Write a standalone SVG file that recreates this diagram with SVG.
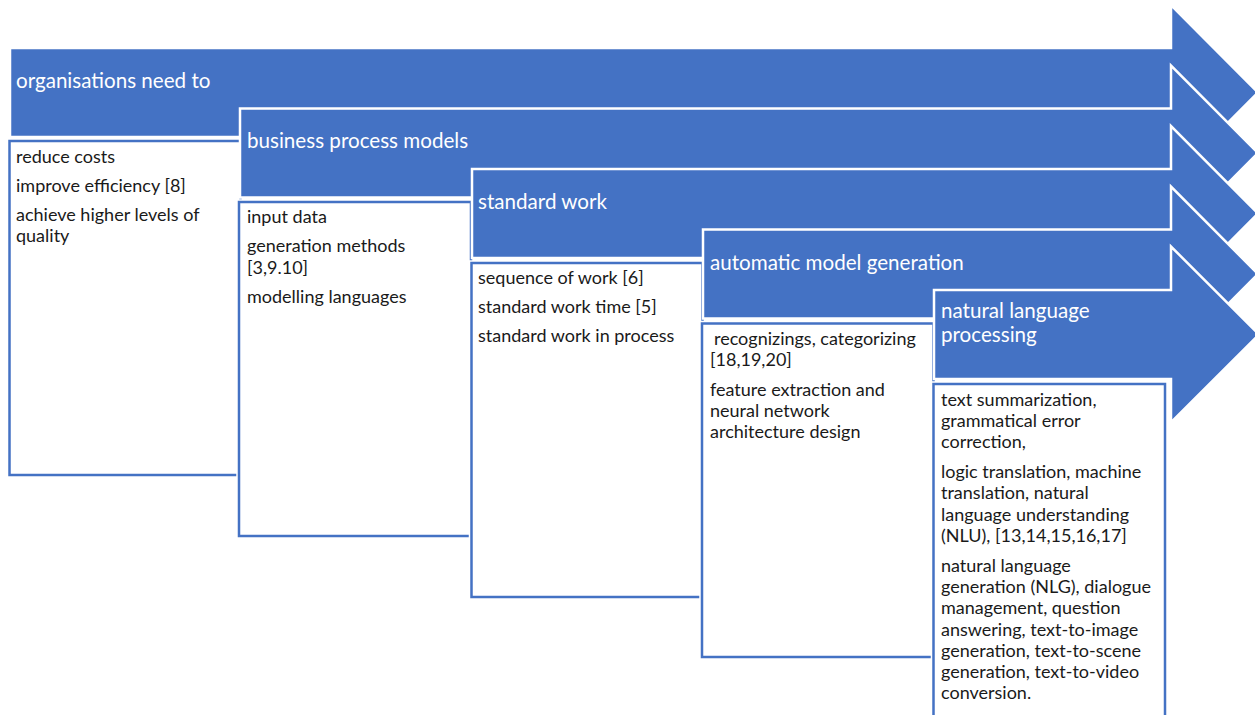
<svg xmlns="http://www.w3.org/2000/svg" width="1255" height="715" viewBox="0 0 1255 715">
<style>
.arrow{fill:#4472C4;stroke:#ffffff;stroke-width:2.5;stroke-linejoin:miter}
.box{fill:#ffffff;stroke:#4472C4;stroke-width:2.5}
.halo{fill:none;stroke:#ffffff;stroke-width:5.5}
.hd{font-family:Lato,"Open Sans",sans-serif;font-size:20.6px;fill:#ffffff}
.bd{font-family:Lato,"Open Sans",sans-serif;font-size:18px;fill:#1a1a1a}
</style>
<rect width="1255" height="715" fill="#ffffff"/>
<g id="node1">
<path class="arrow" d="M10,48 H1171 V5 L1258,92.5 L1171,180 V137 H10 Z"/>
<text class="hd" x="16" y="88">organisations need to</text>
<rect class="halo" x="9.5" y="141" width="231" height="334"/>
<rect class="box" x="9.5" y="141" width="231" height="334"/>
<text class="bd" x="16" y="162.5">reduce costs</text>
<text class="bd" x="16" y="191.5">improve efficiency [8]</text>
<text class="bd" x="16" y="220.5">achieve higher levels of</text>
<text class="bd" x="16" y="242">quality</text>
</g>
<g id="node2">
<path class="arrow" d="M240,108.5 H1171 V65.5 L1258,153 L1171,240.5 V197.5 H240 Z"/>
<text class="hd" x="247" y="148">business process models</text>
<rect class="halo" x="239" y="202" width="232" height="334"/>
<rect class="box" x="239" y="202" width="232" height="334"/>
<text class="bd" x="247" y="223">input data</text>
<text class="bd" x="247" y="252">generation methods</text>
<text class="bd" x="247" y="273.5">[3,9.10]</text>
<text class="bd" x="247" y="303">modelling languages</text>
</g>
<g id="node3">
<path class="arrow" d="M472,169 H1171 V126 L1258,213.5 L1171,301 V258 H472 Z"/>
<text class="hd" x="478" y="209">standard work</text>
<rect class="halo" x="471.5" y="263" width="231" height="334"/>
<rect class="box" x="471.5" y="263" width="231" height="334"/>
<text class="bd" x="478" y="284">sequence of work [6]</text>
<text class="bd" x="478" y="313">standard work time [5]</text>
<text class="bd" x="478" y="342">standard work in process</text>
</g>
<g id="node4">
<path class="arrow" d="M703,229.5 H1171 V186.5 L1258,274 L1171,361.5 V318.5 H703 Z"/>
<text class="hd" x="710" y="270">automatic model generation</text>
<rect class="halo" x="702" y="323.5" width="231.5" height="333.5"/>
<rect class="box" x="702" y="323.5" width="231.5" height="333.5"/>
<text class="bd" x="714" y="345">recognizings, categorizing</text>
<text class="bd" x="710" y="366">[18,19,20]</text>
<text class="bd" x="710" y="396">feature extraction and</text>
<text class="bd" x="710" y="417">neural network</text>
<text class="bd" x="710" y="438">architecture design</text>
</g>
<g id="node5">
<path class="arrow" d="M934,290 H1171 V246.5 L1259,334.5 L1171,422.5 V379 H934 Z"/>
<text class="hd" x="941" y="318">natural language</text>
<text class="hd" x="941" y="342">processing</text>
<rect class="halo" x="933.5" y="384" width="231.5" height="340"/>
<rect class="box" x="933.5" y="384" width="231.5" height="340"/>
<text class="bd" x="941" y="405.5">text summarization,</text>
<text class="bd" x="941" y="427">grammatical error</text>
<text class="bd" x="941" y="448">correction,</text>
<text class="bd" x="941" y="478">logic translation, machine</text>
<text class="bd" x="941" y="499">translation, natural</text>
<text class="bd" x="941" y="520.5">language understanding</text>
<text class="bd" x="941" y="542">(NLU), [13,14,15,16,17]</text>
<text class="bd" x="941" y="572">natural language</text>
<text class="bd" x="941" y="593">generation (NLG), dialogue</text>
<text class="bd" x="941" y="614">management, question</text>
<text class="bd" x="941" y="635.5">answering, text-to-image</text>
<text class="bd" x="941" y="657">generation, text-to-scene</text>
<text class="bd" x="941" y="678">generation, text-to-video</text>
<text class="bd" x="941" y="699">conversion.</text>
</g>
<g id="connectors"></g>
</svg>
